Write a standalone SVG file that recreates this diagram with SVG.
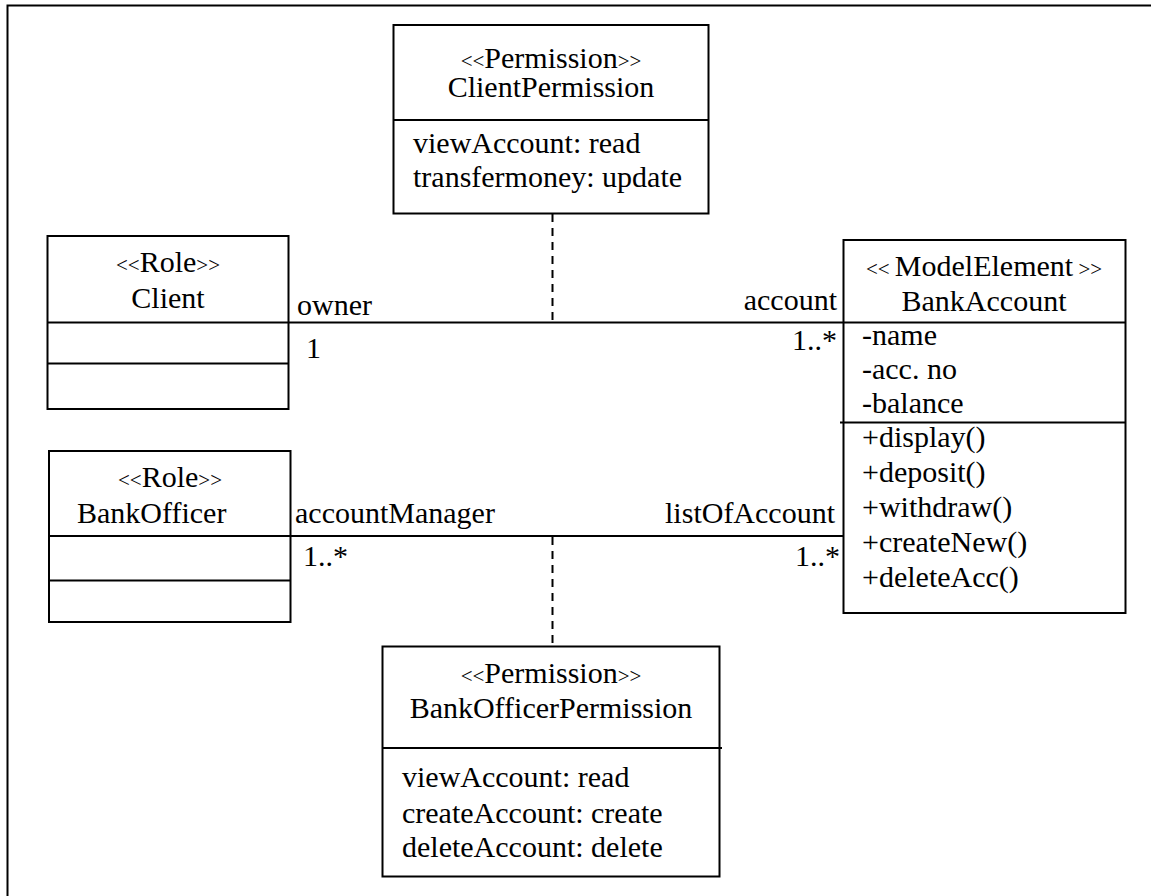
<svg xmlns="http://www.w3.org/2000/svg" width="1151" height="896" viewBox="0 0 1151 896">
<style>
text{font-family:"Liberation Serif","Times New Roman",serif;font-size:30px;fill:#000}
.st{font-size:21px}
.box{fill:#fff;stroke:#000;stroke-width:2}
.ln{stroke:#000;stroke-width:2;fill:none}
.dash{stroke:#000;stroke-width:2;fill:none;stroke-dasharray:8 6}
.mid{text-anchor:middle}
.end{text-anchor:end}
</style>
<rect x="0" y="0" width="1151" height="896" fill="#fff"/>
<path class="ln" d="M7.5,905 V5.5 H1160" stroke-width="2.5"/>
<g id="connectors">
<line class="ln" x1="288" y1="322.5" x2="843" y2="322.5"/>
<line class="ln" x1="290" y1="536" x2="846" y2="536"/>
<line class="dash" x1="552.5" y1="214" x2="552.5" y2="322"/>
<line class="dash" x1="552.5" y1="537" x2="552.5" y2="646"/>
<text x="297" y="315">owner</text>
<text x="306" y="358">1</text>
<text class="end" x="837" y="310">account</text>
<text class="end" x="837" y="350">1..*</text>
<text x="295" y="523">accountManager</text>
<text x="303" y="566">1..*</text>
<text class="end" x="835" y="523">listOfAccount</text>
<text class="end" x="840" y="566">1..*</text>
</g>
<g id="ClientPermission">
<rect class="box" x="393.5" y="25" width="315" height="188.5"/>
<line class="ln" x1="393.5" y1="120" x2="708.5" y2="120"/>
<text class="mid" x="551" y="68"><tspan class="st">&lt;&lt;</tspan>Permission<tspan class="st">&gt;&gt;</tspan></text>
<text class="mid" x="551" y="97">ClientPermission</text>
<text x="413" y="153">viewAccount: read</text>
<text x="413" y="187">transfermoney: update</text>
</g>
<g id="Client">
<rect class="box" x="47.5" y="236" width="241" height="173"/>
<line class="ln" x1="47.5" y1="322.5" x2="288.5" y2="322.5"/>
<line class="ln" x1="47.5" y1="363.5" x2="288.5" y2="363.5"/>
<text class="mid" x="168" y="272"><tspan class="st">&lt;&lt;</tspan>Role<tspan class="st">&gt;&gt;</tspan></text>
<text class="mid" x="168" y="308">Client</text>
</g>
<g id="BankOfficer">
<rect class="box" x="49" y="451" width="241.5" height="171"/>
<line class="ln" x1="49" y1="536" x2="290.5" y2="536"/>
<line class="ln" x1="49" y1="580.5" x2="290.5" y2="580.5"/>
<text class="mid" x="170" y="487"><tspan class="st">&lt;&lt;</tspan>Role<tspan class="st">&gt;&gt;</tspan></text>
<text x="77" y="523">BankOfficer</text>
</g>
<g id="BankAccount">
<rect class="box" x="843.5" y="240" width="282" height="373"/>
<line class="ln" x1="843.5" y1="322.5" x2="1125.5" y2="322.5"/>
<line class="ln" x1="840" y1="422.5" x2="1125.5" y2="422.5"/>
<text class="mid" x="984" y="276"><tspan class="st">&lt;&lt; </tspan>ModelElement<tspan class="st"> &gt;&gt;</tspan></text>
<text class="mid" x="984" y="311">BankAccount</text>
<text x="862" y="345">-name</text>
<text x="862" y="379">-acc. no</text>
<text x="862" y="413">-balance</text>
<text x="862" y="447">+display()</text>
<text x="862" y="482">+deposit()</text>
<text x="862" y="517">+withdraw()</text>
<text x="862" y="552">+createNew()</text>
<text x="862" y="587">+deleteAcc()</text>
</g>
<g id="BankOfficerPermission">
<rect class="box" x="382.5" y="646.5" width="337" height="230"/>
<line class="ln" x1="382.5" y1="748" x2="722" y2="748"/>
<text class="mid" x="551" y="683"><tspan class="st">&lt;&lt;</tspan>Permission<tspan class="st">&gt;&gt;</tspan></text>
<text class="mid" x="551" y="718">BankOfficerPermission</text>
<text x="402" y="787">viewAccount: read</text>
<text x="402" y="823">createAccount: create</text>
<text x="402" y="857">deleteAccount: delete</text>
</g>
</svg>
